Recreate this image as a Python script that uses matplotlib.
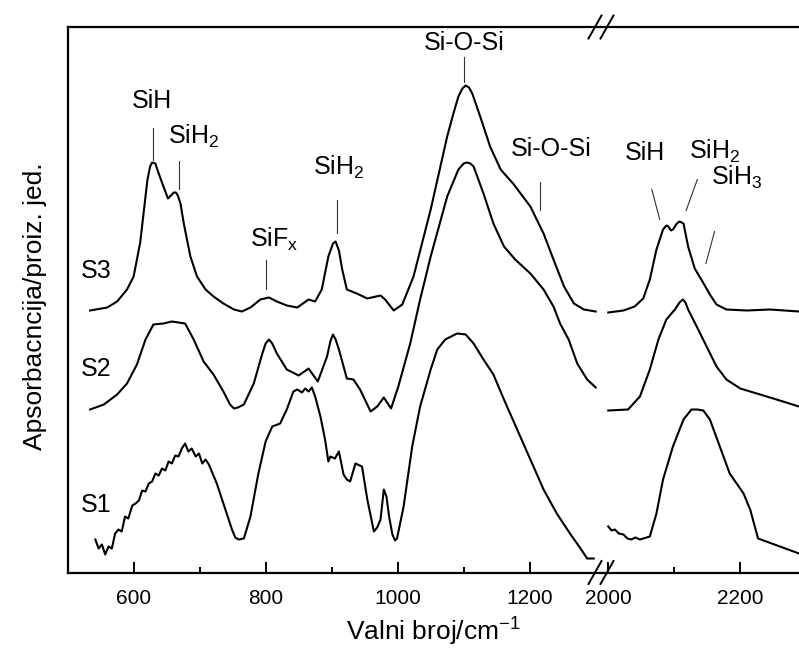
import matplotlib
matplotlib.use("Agg")
import matplotlib.pyplot as plt
from matplotlib.lines import Line2D

plt.rcParams['font.family'] = ['Liberation Sans', 'DejaVu Sans']
plt.rcParams['mathtext.fontset'] = 'custom'
plt.rcParams['mathtext.rm'] = 'Liberation Sans'
plt.rcParams['mathtext.it'] = 'Liberation Sans'

# low wavenumber region (cm-1), absorbance in arbitrary units
s3_x = [534, 560, 575, 590, 600, 610, 618, 621, 625, 628, 633, 638, 643, 652, 661, 664, 667, 671,
        676, 686, 696, 709, 721, 736, 752, 764, 777, 792, 805, 817, 832, 848, 865, 875, 885,
        895, 902, 906, 911, 916, 923, 938, 954, 974, 981, 994, 1007, 1024, 1050, 1075, 1084,
        1092, 1098, 1103, 1108, 1113, 1125, 1140, 1156, 1176, 1201, 1221, 1236, 1252, 1267,
        1282, 1300]
s3_y = [2.62, 2.65, 2.71, 2.83, 2.96, 3.30, 3.76, 3.93, 4.06, 4.10, 4.09, 3.99, 3.90, 3.74, 3.80,
        3.80, 3.77, 3.69, 3.49, 3.16, 2.96, 2.83, 2.76, 2.69, 2.63, 2.61, 2.65, 2.73, 2.75, 2.71,
        2.67, 2.65, 2.73, 2.71, 2.83, 3.16, 3.29, 3.31, 3.22, 3.03, 2.83, 2.79, 2.74, 2.77, 2.73,
        2.62, 2.68, 2.96, 3.63, 4.36, 4.58, 4.76, 4.84, 4.87, 4.85, 4.79, 4.56, 4.26, 4.03, 3.88,
        3.66, 3.39, 3.13, 2.86, 2.69, 2.63, 2.61]

s2_x = [534, 555, 575, 590, 605, 618, 630, 645, 658, 678, 691, 706, 721, 736, 746, 752,
        758, 767, 782, 795, 800, 805, 810, 817, 832, 850, 865, 879, 893, 898, 902, 906, 911,
        923, 933, 943, 959, 969, 979, 990, 1001, 1019, 1034, 1050, 1075, 1092, 1100, 1105, 1110,
        1115, 1130, 1145, 1161, 1178, 1201, 1221, 1236, 1246, 1259, 1272, 1287, 1300]
s2_y = [1.63, 1.68, 1.78, 1.89, 2.08, 2.33, 2.48, 2.49, 2.51, 2.49, 2.33, 2.11, 1.98, 1.81, 1.68,
        1.64, 1.65, 1.68, 1.89, 2.19, 2.29, 2.33, 2.29, 2.19, 2.03, 1.97, 2.04, 1.91, 2.16, 2.31,
        2.38, 2.33, 2.23, 1.94, 1.93, 1.83, 1.61, 1.66, 1.75, 1.64, 1.86, 2.29, 2.73, 3.16, 3.76,
        4.03, 4.09, 4.10, 4.09, 4.06, 3.79, 3.49, 3.26, 3.13, 2.99, 2.83, 2.66, 2.49, 2.33, 2.09,
        1.93, 1.85]

s1_x = [542, 547, 552, 557, 562, 567, 572, 577, 582, 587, 592, 598, 603, 608, 613, 618, 623,
        628, 633, 638, 643, 648, 653, 658, 663, 668, 673, 678, 683, 688, 694, 699, 704, 709,
        714, 726, 736, 749, 754, 759, 767, 777, 789, 800, 810, 822, 832, 842, 848, 855, 860,
        865, 870, 875, 883, 890, 895, 898, 905, 911, 918, 923, 928, 936, 946, 954, 964, 969,
        974, 979, 983, 987, 992, 996, 999, 1009, 1022, 1034, 1050, 1060, 1072, 1090, 1103,
        1115, 1130, 1145, 1161, 1181, 1201, 1221, 1241, 1262, 1277, 1287, 1297]
s1_y = [0.33, 0.24, 0.28, 0.18, 0.26, 0.24, 0.39, 0.43, 0.41, 0.56, 0.54, 0.67, 0.69, 0.72,
        0.82, 0.81, 0.89, 0.91, 0.99, 0.97, 1.04, 1.02, 1.11, 1.09, 1.17, 1.16, 1.24, 1.29, 1.21,
        1.24, 1.16, 1.19, 1.09, 1.13, 1.08, 0.89, 0.69, 0.43, 0.35, 0.33, 0.34, 0.56, 0.99, 1.31,
        1.46, 1.49, 1.63, 1.81, 1.83, 1.80, 1.84, 1.81, 1.85, 1.76, 1.56, 1.33, 1.11, 1.16, 1.14,
        1.21, 0.98, 0.93, 0.91, 1.09, 1.06, 0.73, 0.41, 0.45, 0.53, 0.83, 0.76, 0.56, 0.38, 0.32,
        0.34, 0.66, 1.26, 1.66, 2.03, 2.23, 2.33, 2.39, 2.38, 2.29, 2.13, 1.98, 1.73, 1.43, 1.13,
        0.83, 0.59, 0.38, 0.24, 0.14, 0.14]

# high wavenumber region
s3h_x = [2000, 2023, 2040, 2053, 2063, 2073, 2083, 2088, 2091, 2095, 2098, 2104, 2108, 2114,
         2121, 2131, 2141, 2154, 2164, 2179, 2210, 2245, 2289]
s3h_y = [2.60, 2.62, 2.66, 2.74, 2.93, 3.23, 3.43, 3.47, 3.46, 3.42, 3.43, 3.49, 3.51, 3.49,
         3.26, 3.04, 2.93, 2.78, 2.68, 2.63, 2.62, 2.63, 2.61]

s2h_x = [2000, 2030, 2048, 2063, 2076, 2088, 2101, 2108, 2113, 2117, 2121, 2134, 2149, 2164,
         2179, 2200, 2225, 2255, 2289]
s2h_y = [1.62, 1.63, 1.76, 2.03, 2.33, 2.53, 2.63, 2.70, 2.73, 2.70, 2.63, 2.46, 2.26, 2.06,
         1.93, 1.84, 1.79, 1.73, 1.66]

s1h_x = [2000, 2005, 2010, 2016, 2023, 2029, 2035, 2041, 2048, 2063, 2073, 2083, 2098, 2114,
         2126, 2135, 2144, 2154, 2169, 2184, 2205, 2215, 2227, 2289]
s1h_y = [0.46, 0.42, 0.43, 0.39, 0.38, 0.34, 0.33, 0.35, 0.33, 0.36, 0.59, 0.93, 1.26, 1.53,
         1.63, 1.63, 1.62, 1.53, 1.26, 0.99, 0.79, 0.63, 0.34, 0.19]

sample_names = ["S3", "S2", "S1"]
sample_y = [3.02, 2.03, 0.68]

# band labels: text, text x, text y, marker line (x0, y0, x1, y1)
bands_low = [
    ("SiH", 627, 4.71, (630, 4.44, 630, 4.13)),
    ("SiH$_2$", 652, 4.36, (669, 4.11, 669, 3.84)),
    ("SiF$_x$", 777, 3.33, (800, 3.13, 800, 2.84)),
    ("SiH$_2$", 872, 4.05, (908, 3.73, 908, 3.40)),
    ("Si-O-Si", 1101, 5.30, (1101, 5.16, 1101, 4.91)),
    ("Si-O-Si", 1233, 4.23, (1215, 3.91, 1215, 3.63)),
]
bands_high = [
    ("SiH", 2055, 4.20, (2066, 3.83, 2078, 3.53)),
    ("SiH$_2$", 2123, 4.21, (2135, 3.93, 2118, 3.62)),
    ("SiH$_3$", 2156, 3.95, (2161, 3.41, 2148, 3.09)),
]

W, H = 799, 653
fig = plt.figure(figsize=(W / 100, H / 100), dpi=100)
left, right_edge, split = 67.6, 799, 601
bottom, top = 572.5, 27
ax1 = fig.add_axes([left / W, (H - bottom) / H, (split - left) / W, (bottom - top) / H])
ax2 = fig.add_axes([split / W, (H - bottom) / H, (right_edge - split) / W, (bottom - top) / H])

ax1.set_xlim(500, 1308)
ax2.set_xlim(1989, 2289)
for ax in (ax1, ax2):
    ax.set_ylim(0, 5.455)
    ax.set_yticks([])
    for sp in ax.spines.values():
        sp.set_linewidth(1.6)
    ax.tick_params(axis='x', direction='in', length=8, width=1.4, pad=12,
                   labelsize=15, top=False)
    ax.tick_params(axis='x', which='minor', direction='in', length=4, width=1.4, top=False)
ax1.spines['right'].set_visible(False)
ax2.spines['left'].set_visible(False)
ax2.spines['right'].set_visible(False)

ax1.set_xticks([600, 800, 1000, 1200])
ax1.set_xticks([700, 900, 1100], minor=True)
ax2.set_xticks([2000, 2200])
ax2.set_xticks([2100], minor=True)

kw = dict(color='black', lw=1.5, solid_joinstyle='round')
ax1.plot(s3_x, s3_y, **kw)
ax1.plot(s2_x, s2_y, **kw)
ax1.plot(s1_x, s1_y, **kw)
ax2.plot(s3h_x, s3h_y, **kw)
ax2.plot(s2h_x, s2h_y, **kw)
ax2.plot(s1h_x, s1h_y, **kw)

for name, yv in zip(sample_names, sample_y):
    ax1.text(543, yv, name, fontsize=18, ha='center', va='center')

for ax, bands in ((ax1, bands_low), (ax2, bands_high)):
    for label, tx, ty, (x0, y0, x1, y1) in bands:
        ha = 'center' if label in ("SiH", "Si-O-Si") else 'left'
        ax.text(tx, ty, label, fontsize=18, ha=ha, va='center')
        ax.plot([x0, x1], [y0, y1], color='#333333', lw=0.8)

# axis break marks
for yb in (bottom, top):
    for xc in (595, 607):
        fig.add_artist(Line2D([(xc - 6.5) / W, (xc + 6.5) / W],
                              [(H - yb - 11.5) / H, (H - yb + 11.5) / H],
                              transform=fig.transFigure, color='black', lw=1.4))

fig.text((left + right_edge) / 2 / W, 1 - 632 / H, "Valni broj/cm$^{-1}$",
         fontsize=19, ha='center', va='center')
fig.text(35 / W, 1 - 306 / H, "Apsorbacncija/proiz. jed.", fontsize=19,
         rotation=90, ha='center', va='center')

fig.savefig("out.png", dpi=100)
